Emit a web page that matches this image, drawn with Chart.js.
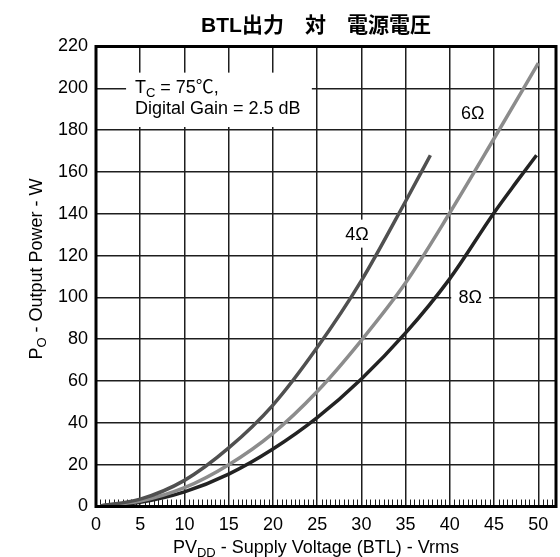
<!DOCTYPE html>
<html>
<head>
<meta charset="utf-8">
<script src="https://cdn.jsdelivr.net/npm/chart.js@4/dist/chart.umd.min.js"></script>
<style>
  html, body { margin: 0; padding: 0; background: #fff; }
  #c { display: block; }
</style>
</head>
<body>
<canvas id="c" width="560" height="557"></canvas>
<script>
// Output power (W) against BTL supply voltage (Vrms), one curve per load.
const volts4 = [0.5, 5, 10, 15, 20, 25, 30, 35, 37.8];
const watts4 = [0.3, 3.5, 12.5, 28, 48.5, 76, 108, 146, 168];

const volts6 = [0.5, 5, 10, 15, 20, 25, 30, 35, 40, 45, 50];
const watts6 = [0.3, 2.6, 9, 20, 35, 55, 79.5, 107, 140.5, 176, 212];

const volts8 = [0.5, 5, 10, 15, 20, 25, 30, 35, 40, 45, 47.5, 49.8];
const watts8 = [0.3, 2, 7, 15.5, 27.5, 42.5, 61, 83, 109, 140.5, 155, 168];

const loadNames = ['4Ω', '6Ω', '8Ω'];
const xTickValues = [0, 5, 10, 15, 20, 25, 30, 35, 40, 45, 50];
const yTickValues = [0, 20, 40, 60, 80, 100, 120, 140, 160, 180, 200, 220];

const chartTitle = 'BTL出力　対　電源電圧';
const noteLine1 = [{ t: 'T' }, { t: 'C', sub: true }, { t: ' = 75℃,' }];
const noteLine2 = [{ t: 'Digital Gain = 2.5 dB' }];
const xTitle = [{ t: 'PV' }, { t: 'DD', sub: true }, { t: ' - Supply Voltage (BTL) - Vrms' }];
const yTitle = [{ t: 'P' }, { t: 'O', sub: true }, { t: ' - Output Power - W' }];

const FAMILY = '"Liberation Sans", Arial, "Noto Sans CJK JP", sans-serif';
const MAIN_FONT = '18px ' + FAMILY;
const SUB_FONT = '13px ' + FAMILY;
const GRID = '#1e1e1e';

function toPoints(xs, ys) { return xs.map((v, i) => ({ x: v, y: ys[i] })); }

function drawRich(ctx, parts, x, y, align) {
  let w = 0;
  for (const p of parts) { ctx.font = p.sub ? SUB_FONT : MAIN_FONT; w += ctx.measureText(p.t).width; }
  let cx = align === 'center' ? x - w / 2 : x;
  ctx.textAlign = 'left';
  ctx.textBaseline = 'alphabetic';
  for (const p of parts) {
    ctx.font = p.sub ? SUB_FONT : MAIN_FONT;
    ctx.fillText(p.t, cx, y + (p.sub ? 4 : 0));
    cx += ctx.measureText(p.t).width;
  }
}

function whiteLabel(ctx, text, cx, cy, w, h) {
  ctx.fillStyle = '#fff';
  ctx.fillRect(cx - w / 2, cy - h / 2, w, h);
  ctx.fillStyle = '#000';
  ctx.font = MAIN_FONT;
  ctx.textAlign = 'center';
  ctx.textBaseline = 'middle';
  ctx.fillText(text, cx, cy + 1);
}

const decor = {
  id: 'decor',
  beforeDatasetsDraw(chart) {
    const { ctx, chartArea: a, scales: { x, y } } = chart;
    ctx.save();
    // short inward ticks along the voltage axis
    ctx.strokeStyle = GRID;
    ctx.lineWidth = 1;
    for (let v = 0.5; v < 52; v += 0.5) {
      if (v % 5 === 0) continue;
      const px = Math.round(x.getPixelForValue(v)) + 0.5;
      ctx.beginPath();
      ctx.moveTo(px, a.bottom);
      ctx.lineTo(px, a.bottom - 7);
      ctx.stroke();
    }
    // condition note in the upper left
    const bx0 = x.getPixelForValue(3.4), bx1 = x.getPixelForValue(24.4);
    const by0 = y.getPixelForValue(207.5), by1 = y.getPixelForValue(181.5);
    ctx.fillStyle = '#fff';
    ctx.fillRect(bx0, by0, bx1 - bx0, by1 - by0);
    ctx.fillStyle = '#000';
    const tx = x.getPixelForValue(4.4);
    drawRich(ctx, noteLine1, tx, y.getPixelForValue(197.8), 'left');
    drawRich(ctx, noteLine2, tx, y.getPixelForValue(187.8), 'left');
    // load labels
    whiteLabel(ctx, loadNames[0], x.getPixelForValue(29.5), y.getPixelForValue(130.5), 30, 28);
    whiteLabel(ctx, loadNames[1], x.getPixelForValue(42.6), y.getPixelForValue(188), 30, 24);
    whiteLabel(ctx, loadNames[2], x.getPixelForValue(42.3), y.getPixelForValue(100.3), 38, 24);
    ctx.restore();
  },
  afterDatasetsDraw(chart) {
    const { ctx, chartArea: a } = chart;
    ctx.save();
    ctx.strokeStyle = '#000';
    ctx.lineWidth = 3;
    ctx.strokeRect(a.left, a.top, a.right - a.left, a.bottom - a.top);
    ctx.fillStyle = '#000';
    // chart title
    ctx.font = 'bold 21px ' + FAMILY;
    ctx.textAlign = 'center';
    ctx.textBaseline = 'alphabetic';
    ctx.fillText(chartTitle, 316, 32);
    // axis titles
    drawRich(ctx, xTitle, 316, 553, 'center');
    ctx.translate(42, 269);
    ctx.rotate(-Math.PI / 2);
    drawRich(ctx, yTitle, 0, 0, 'center');
    ctx.restore();
  }
};

Chart.defaults.font.family = FAMILY;
Chart.defaults.font.size = 18;
Chart.defaults.color = '#000';

new Chart(document.getElementById('c'), {
  type: 'line',
  data: {
    datasets: [
      { label: loadNames[0], data: toPoints(volts4, watts4), borderColor: '#505050' },
      { label: loadNames[1], data: toPoints(volts6, watts6), borderColor: '#8c8c8c' },
      { label: loadNames[2], data: toPoints(volts8, watts8), borderColor: '#232323' }
    ].map(d => Object.assign(d, {
      borderWidth: 3.5, pointRadius: 0, fill: false,
      cubicInterpolationMode: 'monotone', borderCapStyle: 'butt'
    }))
  },
  options: {
    responsive: false,
    animation: false,
    devicePixelRatio: 1,
    layout: { padding: { top: 46.5, right: 4, left: 0, bottom: 0 } },
    plugins: { legend: { display: false }, title: { display: false }, tooltip: { enabled: false } },
    scales: {
      x: {
        type: 'linear', min: 0, max: 52,
        afterBuildTicks: s => { s.ticks = xTickValues.map(v => ({ value: v })); },
        afterFit: s => { s.height = 50.5; },
        ticks: { padding: 8, maxRotation: 0, autoSkip: false, font: { size: 18 }, color: '#000' },
        grid: { color: GRID, lineWidth: 1.5, drawTicks: false },
        border: { display: false }
      },
      y: {
        type: 'linear', min: 0, max: 220,
        afterBuildTicks: s => { s.ticks = yTickValues.map(v => ({ value: v })); },
        afterFit: s => { s.width = 96; },
        ticks: { padding: 8, autoSkip: false, font: { size: 18 }, color: '#000' },
        grid: { color: GRID, lineWidth: 1.5, drawTicks: false },
        border: { display: false }
      }
    }
  },
  plugins: [decor]
});
</script>
</body>
</html>
